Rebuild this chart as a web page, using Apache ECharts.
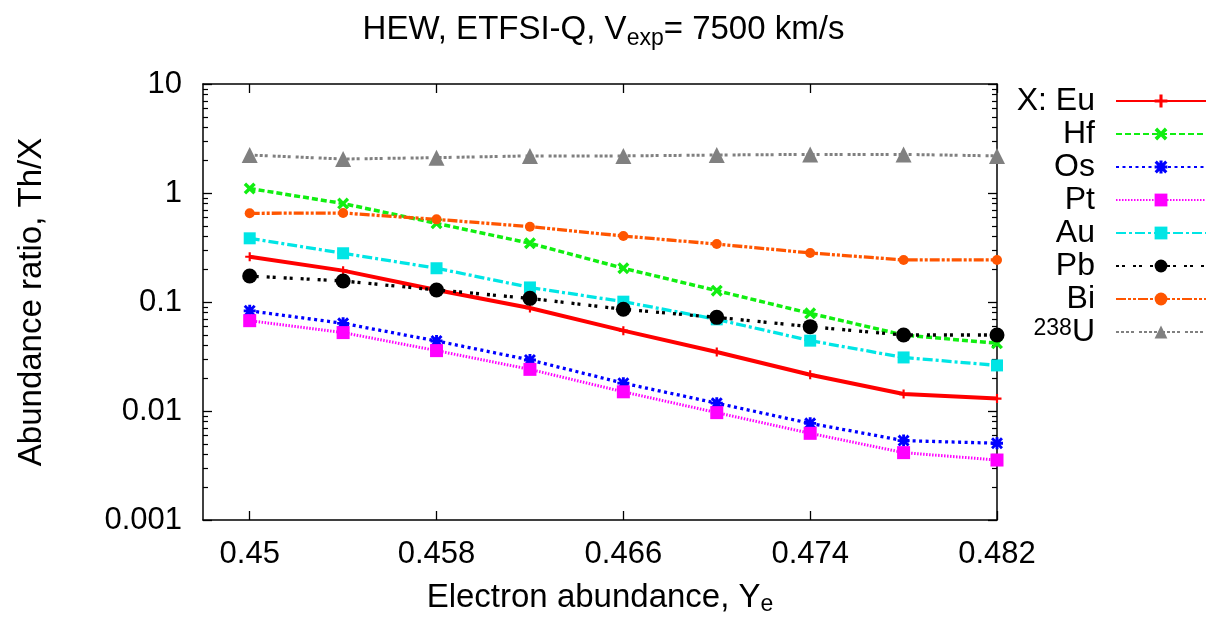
<!DOCTYPE html>
<html>
<head>
<meta charset="utf-8">
<script src="https://cdn.jsdelivr.net/npm/echarts@6/dist/echarts.min.js"></script>
<style>
html,body{margin:0;padding:0;background:#fff;}
#chart{width:1207px;height:629px;}
</style>
</head>
<body>
<div id="chart"></div>
<script>
// ---- data ----
var ye = [0.450, 0.454, 0.458, 0.462, 0.466, 0.470, 0.474, 0.478, 0.482];
var eu = [0.260, 0.194, 0.129, 0.088, 0.0546, 0.0348, 0.0215, 0.0143, 0.0130];
var hf = [1.10, 0.80, 0.527, 0.346, 0.204, 0.127, 0.0787, 0.0498, 0.0418];
var os = [0.083, 0.0637, 0.0439, 0.0294, 0.0180, 0.0118, 0.0077, 0.00535, 0.00506];
var pt = [0.0674, 0.0524, 0.0358, 0.0241, 0.0150, 0.00966, 0.00624, 0.00415, 0.00355];
var au = [0.384, 0.280, 0.204, 0.136, 0.1007, 0.0693, 0.0442, 0.0310, 0.0262];
var pb = [0.173, 0.156, 0.129, 0.108, 0.0857, 0.0723, 0.0594, 0.0498, 0.0498];
var bi = [0.651, 0.655, 0.573, 0.491, 0.403, 0.340, 0.282, 0.243, 0.243];
var u238 = [2.23, 2.05, 2.11, 2.19, 2.19, 2.23, 2.26, 2.26, 2.19];
var seriesNames = ['X: Eu', 'Hf', 'Os', 'Pt', 'Au', 'Pb', 'Bi', '238U'];
var xTicks = [0.450, 0.458, 0.466, 0.474, 0.482];
var xTickLabels = ['0.45', '0.458', '0.466', '0.474', '0.482'];
var yTicks = [0.001, 0.01, 0.1, 1, 10];
var yTickLabels = ['0.001', '0.01', '0.1', '1', '10'];
var minorMult = [2, 3, 4, 5, 6, 7, 8, 9];
var xMin = 0.448, xMax = 0.482, yMin = 0.001, yMax = 10;

function pairs(vals) { return ye.map(function (x, i) { return [x, vals[i]]; }); }

var yMinorTicks = [];
yTicks.slice(0, -1).forEach(function (d) {
  minorMult.forEach(function (m) { yMinorTicks.push(+(d * m).toPrecision(6)); });
});

var FONT = 'Liberation Sans, Arial, sans-serif';
var PLUS = 'path://M3.8,0H6.2V3.8H10V6.2H6.2V10H3.8V6.2H0V3.8H3.8Z';
var CROSS = 'path://M2,0L5,3L8,0L10,2L7,5L10,8L8,10L5,7L2,10L0,8L3,5L0,2Z';
var STAR = 'path://M3.8,0H6.2V3.8H10V6.2H6.2V10H3.8V6.2H0V3.8H3.8Z M1.7,0L5,3.3L8.3,0L10,1.7L6.7,5L10,8.3L8.3,10L5,6.7L1.7,10L0,8.3L3.3,5L0,1.7Z';

function mk(name, vals, color, width, dash, symbol, size) {
  return {
    name: name, type: 'line', data: pairs(vals),
    symbol: symbol, symbolSize: size, showSymbol: true,
    lineStyle: { color: color, width: width, type: dash },
    itemStyle: { color: color },
    clip: false, z: 3, animation: false
  };
}

var series = [
  mk('X: Eu', eu, '#ff0000', 4, 'solid', PLUS, 9),
  mk('Hf', hf, '#11ee11', 3.5, [6, 3], CROSS, 12),
  mk('Os', os, '#0000ff', 3.3, [3, 3.5], STAR, 12),
  mk('Pt', pt, '#ff00ff', 3, [1.5, 1.5], 'rect', 13),
  mk('Au', au, '#00e5e5', 3.3, [10, 3, 3, 3], 'rect', 12),
  mk('Pb', pb, '#000000', 3.3, [3, 3, 3, 8], 'circle', 15),
  mk('Bi', bi, '#ff5500', 3.3, [10, 2, 3, 2, 3, 2], 'circle', 10),
  mk('238U', u238, '#808080', 3, [3, 2, 3, 2, 3, 2, 3, 5], 'triangle', 16)
];

function frameY(pos, labels) {
  return {
    type: 'log', logBase: 10, min: yMin, max: yMax, position: pos,
    axisLine: { show: true, onZero: false, lineStyle: { color: '#000', width: 1.5 } },
    axisTick: { show: true, inside: true, length: 9, lineStyle: { color: '#000', width: 1.3 } },
    axisLabel: { show: false }, splitLine: { show: false }
  };
}
function minorY(pos) {
  return {
    type: 'log', logBase: 10, min: yMin, max: yMax, position: pos,
    axisLine: { show: false, onZero: false },
    axisTick: { show: true, inside: true, length: 5, customValues: yMinorTicks, lineStyle: { color: '#000', width: 1.2 } },
    axisLabel: { show: false }, splitLine: { show: false }
  };
}

var leftY = frameY('left');
leftY.name = 'Abundance ratio, Th/X';
leftY.nameLocation = 'middle';
leftY.nameGap = 155;
leftY.nameTextStyle = { fontFamily: FONT, fontSize: 33, color: '#000' };
leftY.axisLabel = {
  show: true, margin: 21, fontFamily: FONT, fontSize: 31, color: '#000',
  formatter: function (v) { var k = Math.round(Math.log10(v)) + 3; return yTickLabels[k] || ''; }
};

var chart = echarts.init(document.getElementById('chart'), null, { renderer: 'canvas' });
chart.setOption({
  backgroundColor: '#ffffff',
  animation: false,
  textStyle: { fontFamily: FONT },
  title: {
    left: 'center', top: 5,
    text: '{a|HEW, ETFSI-Q, V}{s|exp}{a|= 7500 km/s}',
    textStyle: {
      fontWeight: 'normal',
      rich: {
        a: { fontFamily: FONT, fontSize: 33, fontWeight: 'normal', color: '#000', lineHeight: 40 },
        s: { fontFamily: FONT, fontSize: 23, fontWeight: 'normal', color: '#000', lineHeight: 18, verticalAlign: 'bottom' }
      }
    }
  },
  grid: { left: 203, right: 210, top: 84, bottom: 109, containLabel: false },
  legend: {
    orient: 'vertical', right: 0, top: 85, align: 'right', padding: 0,
    itemWidth: 90, itemHeight: 16, itemGap: 1,
    data: seriesNames,
    formatter: function (n) { return n === '238U' ? '{sup|238}{b|U}' : '{b|' + n + '}'; },
    textStyle: {
      fontFamily: FONT, fontSize: 32, color: '#000', padding: [0, 16, 0, 0],
      rich: {
        b: { fontFamily: FONT, fontSize: 32, color: '#000', lineHeight: 30 },
        sup: { fontFamily: FONT, fontSize: 23, color: '#000', lineHeight: 30, verticalAlign: 'top', padding: [0, 0, 14, 0] }
      }
    }
  },
  xAxis: [{
    type: 'value', min: xMin, max: xMax, position: 'bottom',
    name: '{a|Electron abundance, Y}{s|e}', nameLocation: 'middle', nameGap: 60,
    nameTextStyle: { rich: {
      a: { fontFamily: FONT, fontSize: 33, color: '#000', lineHeight: 36 },
      s: { fontFamily: FONT, fontSize: 23, color: '#000', lineHeight: 16, verticalAlign: 'bottom' }
    } },
    axisLine: { show: true, onZero: false, lineStyle: { color: '#000', width: 1.5 } },
    axisTick: { show: true, inside: true, length: 9, customValues: xTicks, lineStyle: { color: '#000', width: 1.3 } },
    axisLabel: {
      customValues: xTicks, margin: 19, fontFamily: FONT, fontSize: 31, color: '#000',
      formatter: function (v) { var i = xTicks.findIndex(function (t) { return Math.abs(t - v) < 1e-9; }); return i >= 0 ? xTickLabels[i] : ''; }
    },
    splitLine: { show: false }
  }, {
    type: 'value', min: xMin, max: xMax, position: 'top',
    axisLine: { show: true, onZero: false, lineStyle: { color: '#000', width: 1.5 } },
    axisTick: { show: true, inside: true, length: 9, customValues: xTicks, lineStyle: { color: '#000', width: 1.3 } },
    axisLabel: { show: false }, splitLine: { show: false }
  }],
  yAxis: [leftY, frameY('right'), minorY('left'), minorY('right')],
  series: series
});
</script>
</body>
</html>
